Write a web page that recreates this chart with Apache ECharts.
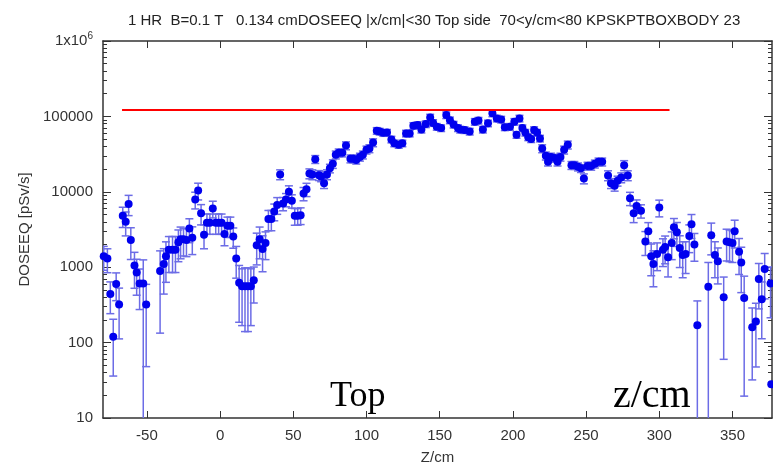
<!DOCTYPE html>
<html>
<head>
    <meta charset="utf-8">
    <title>DOSEEQ Top side</title>
    <script src="https://cdn.jsdelivr.net/npm/echarts@6/dist/echarts.min.js"></script>
</head>
<body style="margin:0">
    <div id="main" style="width:773px;height:466px;"></div>
    <script type="text/javascript">
        // z position of each bin (cm)
        var zcm = [-79.5, -77, -75, -73, -71, -69, -66.5, -64.5, -62.5, -61, -58.5, -57, -55, -52.5, -50.5,
            -41, -38.5, -37, -35, -32.5, -30.5, -28.5, -27, -25, -23, -21, -19, -17, -15, -13, -11, -9, -7, -5, -3, -1,
            1, 3, 5, 7, 9, 11, 13, 15, 17, 19, 21, 23, 25, 27, 29, 31, 33, 35, 37, 39,
            41, 43, 45, 47, 49, 51, 53, 55, 57, 59, 61, 63, 65, 67.5, 69, 71, 73, 75, 77, 79,
            81, 83.5, 86, 89, 91, 93, 95.5, 97.5, 100, 102, 104.5, 107, 109, 111.5, 114, 117, 119,
            122, 124.5, 127, 129.5, 132, 135, 137.5, 140.5, 143.5, 145.5, 148, 151, 154.5, 157, 159.5,
            162.5, 164, 167, 170.5, 174, 176.5, 179.5, 183, 186, 189, 192, 194.5, 198, 201, 202.5, 204.5,
            206.5, 208.5, 210.5, 212.5, 214.5, 216.5, 218.5, 220, 222.5, 224, 226, 228.5, 230.5, 232.5,
            235, 237.5, 240, 242, 244.5, 246.5, 248.5, 251, 253.5, 256, 258.5, 261, 265, 267, 269.5,
            271.5, 274, 276, 278.5, 280, 282.5, 284.5, 287.5, 290.5, 292.5, 294.5, 296, 298.5, 300,
            302.5, 304, 306, 308.5, 310, 312, 314, 316, 318, 320.5, 322, 324, 326, 333.5, 335.5, 338,
            340, 344, 346, 348, 350, 351.5, 354.5, 356, 358, 363.5, 366, 368, 370, 372, 376, 376.5];

        // DOSEEQ value per bin (pSv/s)
        var doseeq = [1400, 1300, 440, 120, 600, 320, 4800, 4000, 6900, 2300, 1050, 850, 610, 610, 320,
            890, 1100, 1400, 1700, 1700, 1700, 2150, 2350, 2350, 2300, 3250, 2450, 7900, 10400, 5200, 2700, 3900, 3900, 6000, 3900, 3900,
            3900, 2750, 3550, 3550, 2550, 1300, 620, 560, 560, 560, 560, 670, 1950, 2350, 1740, 2100, 4350, 4350, 5500, 6700,
            17000, 7000, 7900, 10000, 7600, 4800, 4800, 4900, 9500, 10800, 17500, 17000, 27000, 16600, 16000, 13000, 17000, 20500, 23500, 31000,
            33000, 33000, 41000, 27500, 27500, 26500, 29000, 31000, 36000, 37500, 45000, 64500, 63000, 60500, 61000, 49500, 44000,
            42000, 44000, 59500, 59500, 75000, 77000, 67000, 79000, 97000, 82000, 73000, 70000, 104000, 89000, 78000,
            70000, 67000, 66000, 63000, 85000, 88000, 67000, 81000, 110000, 94000, 91000, 72000, 73000, 85000, 57000, 94000,
            70000, 61000, 53000, 50000, 66000, 61000, 51000, 37500, 30000, 25000, 29000, 28000, 25000, 29000,
            36000, 42000, 22500, 22500, 21500, 20500, 15000, 22000, 22000, 23500, 25000, 25000, 16500, 13000, 12000,
            14000, 15500, 22500, 16500, 8200, 5200, 6500, 5600, 2200, 3000, 1400, 1100, 1500, 6200,
            1700, 1850, 1350, 2100, 3400, 2900, 1800, 1450, 1500, 2600, 3700, 2000, 170, 550, 2650, 1450,
            1200, 400, 2200, 2150, 2100, 3000, 1600, 1150, 390, 160, 190, 700, 375, 950, 610, 28];

        // relative error per bin
        var relErr = [0.35, 0.35, 0.45, 0.7, 0.4, 0.65, 0.3, 0.35, 0.3, 0.45, 0.5, 0.5, 0.55, 1.05, 0.85,
            0.85, 0.6, 0.55, 0.5, 0.5, 0.5, 0.45, 0.45, 0.4, 0.4, 0.35, 0.4, 0.25, 0.25, 0.3, 0.35, 0.3, 0.3, 0.25, 0.3, 0.3,
            0.3, 0.3, 0.3, 0.3, 0.3, 0.45, 0.7, 0.7, 0.75, 0.75, 0.7, 0.5, 0.45, 0.45, 0.5, 0.4, 0.3, 0.3, 0.25, 0.25,
            0.15, 0.2, 0.2, 0.2, 0.2, 0.25, 0.25, 0.25, 0.2, 0.2, 0.15, 0.15, 0.12, 0.15, 0.15, 0.15, 0.15, 0.13, 0.13, 0.12,
            0.12, 0.12, 0.12, 0.12, 0.12, 0.12, 0.12, 0.12, 0.12, 0.12, 0.12, 0.1, 0.1, 0.1, 0.1, 0.1, 0.1,
            0.1, 0.1, 0.1, 0.1, 0.1, 0.1, 0.1, 0.1, 0.1, 0.1, 0.1, 0.1, 0.1, 0.1, 0.1,
            0.1, 0.1, 0.1, 0.1, 0.1, 0.1, 0.1, 0.1, 0.1, 0.1, 0.1, 0.1, 0.1, 0.1, 0.1, 0.1,
            0.1, 0.1, 0.1, 0.1, 0.1, 0.1, 0.1, 0.12, 0.12, 0.12, 0.12, 0.12, 0.12, 0.12,
            0.12, 0.12, 0.12, 0.12, 0.12, 0.12, 0.15, 0.12, 0.12, 0.12, 0.12, 0.12, 0.15, 0.15, 0.15,
            0.15, 0.15, 0.15, 0.15, 0.2, 0.25, 0.2, 0.2, 0.35, 0.3, 0.45, 0.5, 0.4, 0.25,
            0.4, 0.4, 0.45, 0.4, 0.3, 0.35, 0.45, 0.5, 0.45, 0.4, 0.35, 0.4, 1.1, 1.1, 0.45, 0.5,
            0.5, 0.85, 0.45, 0.45, 0.45, 0.4, 0.5, 0.6, 0.95, 0.8, 0.75, 0.6, 0.7, 0.6, 0.65, 0];

        // red reference line
        var refLineZ = [-67, 307];
        var refLineDose = 122000;

        var xTicks = [-50, 0, 50, 100, 150, 200, 250, 300, 350];
        var yTicks = [10, 100, 1000, 10000, 100000, 1000000];
        var yMinor = [];
        yTicks.slice(0, -1).forEach(function (d) {
            for (var k = 2; k <= 9; k++) yMinor.push(d * k);
        });

        var points = zcm.map(function (z, i) { return [z, doseeq[i]]; });
        var bars = zcm.map(function (z, i) { return [z, doseeq[i], doseeq[i] * relErr[i]]; });

        var axisColor = '#333';
        var font = 'Liberation Sans';

        function renderErr(params, api) {
            var x = api.value(0), v = api.value(1), e = api.value(2);
            if (!e) return;
            var cs = params.coordSys;
            var top = api.coord([x, v + e]);
            var low = v - e;
            var bottomY = low > 0 ? api.coord([x, low])[1] : cs.y + cs.height + 5;
            var px = top[0];
            var st = { stroke: '#6c6ce6', lineWidth: 1.5 };
            var kids = [
                { type: 'line', shape: { x1: px, y1: top[1], x2: px, y2: bottomY }, style: st },
                { type: 'line', shape: { x1: px - 4, y1: top[1], x2: px + 4, y2: top[1] }, style: st }
            ];
            if (low > 0) {
                kids.push({ type: 'line', shape: { x1: px - 4, y1: bottomY, x2: px + 4, y2: bottomY }, style: st });
            }
            return { type: 'group', children: kids };
        }

        // extra log axes only carry tick marks (mirror / minor ticks)
        function tickAxis(pos, ticks, len, showLine) {
            return {
                type: 'log', logBase: 10, min: 10, max: 1000000, position: pos,
                axisLine: { show: showLine, onZero: false, lineStyle: { color: axisColor, width: 1.5 } },
                axisTick: { inside: true, length: len, customValues: ticks, lineStyle: { color: axisColor } },
                axisLabel: { show: false },
                splitLine: { show: false }
            };
        }

        var myChart = echarts.init(document.getElementById('main'));

        var option = {
            backgroundColor: '#fff',
            animation: false,
            title: {
                text: '1 HR  B=0.1 T   0.134 cmDOSEEQ |x/cm|<30 Top side  70<y/cm<80 KPSKPTBOXBODY 23',
                left: 123,
                top: 8,
                textStyle: { fontFamily: font, fontSize: 15, fontWeight: 'normal', color: '#222' }
            },
            grid: { left: 103, right: 1, top: 41, bottom: 48, outerBoundsMode: 'none', containLabel: false },
            xAxis: [{
                type: 'value', min: -80, max: 377,
                name: 'Z/cm', nameLocation: 'middle', nameGap: 32,
                nameTextStyle: { fontFamily: font, fontSize: 15, color: '#333' },
                axisLine: { onZero: false, lineStyle: { color: axisColor, width: 1.5 } },
                axisTick: { inside: true, length: 7, customValues: xTicks, lineStyle: { color: axisColor } },
                axisLabel: { customValues: xTicks, margin: 10, fontFamily: font, fontSize: 15, color: '#333' },
                splitLine: { show: false }
            }, {
                type: 'value', min: -80, max: 377, position: 'top',
                axisLine: { onZero: false, lineStyle: { color: axisColor, width: 1.5 } },
                axisTick: { inside: true, length: 7, customValues: xTicks, lineStyle: { color: axisColor } },
                axisLabel: { show: false },
                splitLine: { show: false }
            }],
            yAxis: [{
                type: 'log', logBase: 10, min: 10, max: 1000000,
                name: 'DOSEEQ [pSv/s]', nameLocation: 'middle', nameGap: 70,
                nameTextStyle: { fontFamily: font, fontSize: 15, color: '#333' },
                axisLine: { onZero: false, lineStyle: { color: axisColor, width: 1.5 } },
                axisTick: { inside: true, length: 8, customValues: yTicks, lineStyle: { color: axisColor } },
                axisLabel: {
                    customValues: yTicks, margin: 10, fontFamily: font, fontSize: 15, color: '#333',
                    formatter: function (v) {
                        return v >= 1000000 ? '{b|1x10}{s|6}' : String(Math.round(v));
                    },
                    rich: {
                        b: { fontFamily: font, fontSize: 15, color: '#333' },
                        s: { fontFamily: font, fontSize: 10, color: '#333', verticalAlign: 'top', padding: [0, 0, 10, 0] }
                    }
                },
                splitLine: { show: false }
            },
                tickAxis('left', yMinor, 4, false),
                tickAxis('right', yTicks, 8, true),
                tickAxis('right', yMinor, 4, false)
            ],
            graphic: [{
                type: 'text', left: 330, top: 379, z: 100,
                style: { text: 'Top', font: '36px "Liberation Serif"', fill: '#000' }
            }, {
                type: 'text', left: 613, top: 376, z: 100,
                style: { text: 'z/cm', font: '40px "Liberation Serif"', fill: '#000' }
            }],
            series: [{
                type: 'custom',
                renderItem: renderErr,
                data: bars,
                encode: { x: 0, y: 1 },
                clip: true,
                z: 2
            }, {
                type: 'scatter',
                data: points,
                symbol: 'circle',
                symbolSize: 8,
                itemStyle: { color: '#0000ee', opacity: 1 },
                z: 3
            }, {
                type: 'line',
                data: refLineZ.map(function (z) { return [z, refLineDose]; }),
                symbol: 'none',
                lineStyle: { color: '#ff0000', width: 2 },
                z: 4
            }]
        };

        myChart.setOption(option);
    </script>
</body>
</html>
